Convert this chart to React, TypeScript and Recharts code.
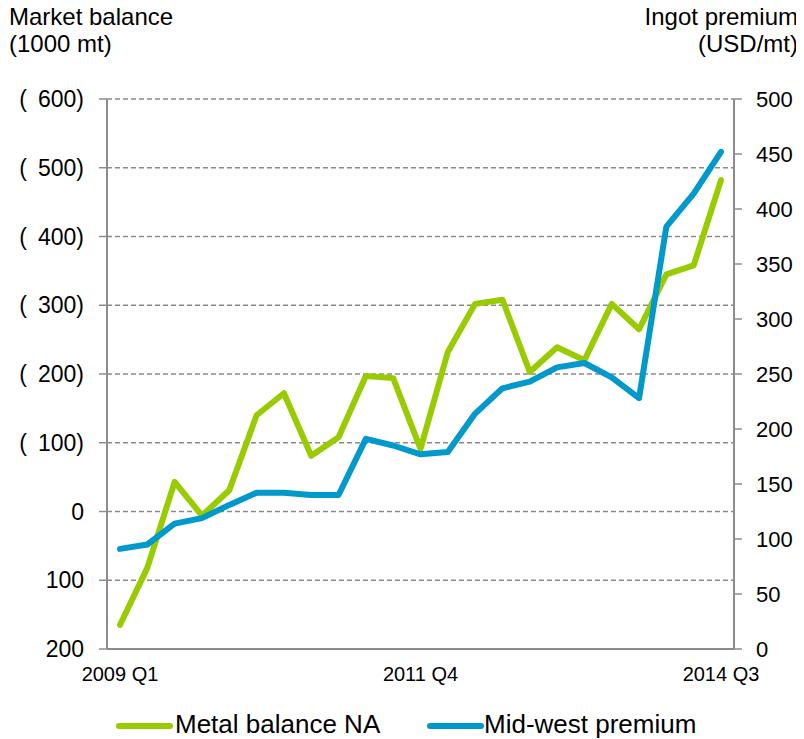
import React from "react";
import { LineChart, Line, XAxis, YAxis, CartesianGrid } from "recharts";

const quarters = [
  "2009 Q1", "2009 Q2", "2009 Q3", "2009 Q4",
  "2010 Q1", "2010 Q2", "2010 Q3", "2010 Q4",
  "2011 Q1", "2011 Q2", "2011 Q3", "2011 Q4",
  "2012 Q1", "2012 Q2", "2012 Q3", "2012 Q4",
  "2013 Q1", "2013 Q2", "2013 Q3", "2013 Q4",
  "2014 Q1", "2014 Q2", "2014 Q3",
];

// Market balance, 1000 mt (positive = shown in parentheses on the axis)
const metalBalanceNA = [
  -165, -82, 43, -6, 31, 140, 172, 81, 108, 197, 194, 91,
  232, 302, 308, 203, 239, 220, 302, 265, 345, 358, 482,
];

// Ingot premium, USD/mt
const midWestPremium = [
  91, 95, 114, 119, 131, 142, 142, 140, 140, 191, 185, 177,
  179, 214, 237, 243, 256, 260, 247, 228, 384, 414, 452,
];

const leftTicks = [-200, -100, 0, 100, 200, 300, 400, 500, 600];
const rightTicks = [0, 50, 100, 150, 200, 250, 300, 350, 400, 450, 500];

const data = quarters.map((q, i) => ({
  q,
  balance: metalBalanceNA[i],
  premium: midWestPremium[i],
}));

const GREEN = "#99CC00";
const BLUE = "#0099CC";
const AXIS = "#8c8c8c";
const FONT = "'Liberation Sans', Arial, sans-serif";

const fmtLeft = (v: number) =>
  v > 0 ? `(\u00a0\u2009${v})` : v < 0 ? `${-v}` : "0";

export default function App() {
  return (
    <div style={{ position: "relative", width: 804, height: 739, margin: "-8px 0 0 -8px", fontFamily: FONT }}>
      <LineChart
        width={804}
        height={739}
        data={data}
        margin={{ top: 99, right: 0, left: 0, bottom: 0 }}
      >
        <CartesianGrid
          yAxisId="left"
          vertical={false}
          stroke="#8a8a8a"
          strokeDasharray="5 3"
          strokeWidth={1.3}
        />
        <XAxis
          dataKey="q"
          interval={10}
          padding={{ left: 13, right: 13 }}
          height={90}
          tickLine={false}
          tickSize={8}
          tickMargin={10}
          axisLine={{ stroke: AXIS, strokeWidth: 2 }}
          tick={{ fill: "#000", fontSize: 20, fontFamily: FONT }}
        />
        <YAxis
          yAxisId="left"
          orientation="left"
          width={107}
          domain={[-200, 600]}
          ticks={leftTicks}
          interval={0}
          tickFormatter={fmtLeft}
          tickSize={8}
          tickMargin={15}
          axisLine={{ stroke: AXIS, strokeWidth: 2 }}
          tickLine={{ stroke: AXIS, strokeWidth: 1.5 }}
          tick={{ fill: "#000", fontSize: 23, fontFamily: FONT }}
          allowDataOverflow
        />
        <YAxis
          yAxisId="right"
          orientation="right"
          width={70}
          domain={[0, 500]}
          ticks={rightTicks}
          interval={0}
          tickSize={8}
          tickMargin={14}
          axisLine={{ stroke: AXIS, strokeWidth: 2 }}
          tickLine={{ stroke: AXIS, strokeWidth: 1.5 }}
          tick={{ fill: "#000", fontSize: 22, fontFamily: FONT }}
          allowDataOverflow
        />
        <Line
          yAxisId="left"
          type="linear"
          dataKey="balance"
          stroke={GREEN}
          strokeWidth={6}
          strokeLinejoin="round"
          strokeLinecap="round"
          dot={false}
          activeDot={false}
          isAnimationActive={false}
        />
        <Line
          yAxisId="right"
          type="linear"
          dataKey="premium"
          stroke={BLUE}
          strokeWidth={6}
          strokeLinejoin="round"
          strokeLinecap="round"
          dot={false}
          activeDot={false}
          isAnimationActive={false}
        />
      </LineChart>
      <svg
        width={804}
        height={739}
        style={{ position: "absolute", left: 0, top: 0, pointerEvents: "none" }}
      >
        <g fontFamily={FONT} fill="#000" fontSize={24}>
          <text x={9} y={25}>Market balance</text>
          <text x={9} y={52}>(1000 mt)</text>
          <text x={798} y={25} textAnchor="end">Ingot premium</text>
          <text x={798} y={52} textAnchor="end">(USD/mt)</text>
        </g>
        <g fontFamily={FONT} fill="#000" fontSize={26}>
          <line x1={119} y1={726} x2={170} y2={726} stroke={GREEN} strokeWidth={6} strokeLinecap="round" />
          <text x={175} y={733}>Metal balance NA</text>
          <line x1={430} y1={726} x2={481} y2={726} stroke={BLUE} strokeWidth={6} strokeLinecap="round" />
          <text x={484} y={733}>Mid-west premium</text>
        </g>
      </svg>
    </div>
  );
}
